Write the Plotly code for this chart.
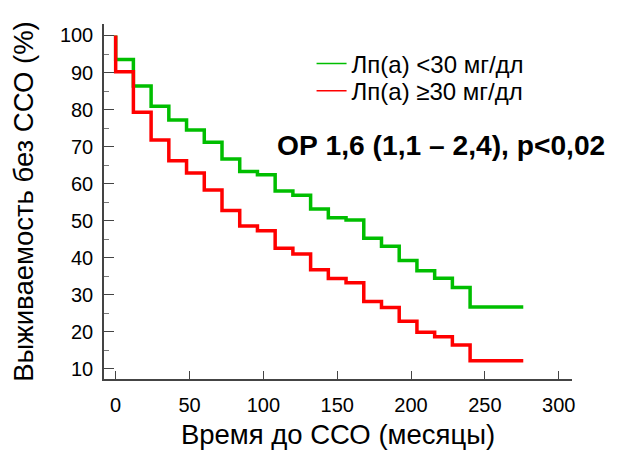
import plotly.graph_objects as go

# Time points (months): start, then steps every 12 months, end of follow-up
times = [0, 0, 12, 24, 36, 48, 60, 72, 84, 96, 108, 120, 132, 144, 156, 168,
         180, 192, 204, 216, 228, 240, 276]

# Survival without CVE (%) – Lp(a) < 30 mg/dl
surv_low = [100, 93.5, 86.4, 80.9, 77.2, 74.5, 71.2, 66.7, 63.3, 62.4, 58.0, 56.9,
            53.2, 50.8, 50.2, 45.3, 43.1, 39.3, 36.5, 34.5, 32.0, 26.7, 26.7]

# Survival without CVE (%) – Lp(a) >= 30 mg/dl
surv_high = [100, 90.2, 79.3, 71.8, 66.2, 62.9, 58.3, 52.8, 48.6, 47.3, 42.6, 41.0,
             36.8, 34.4, 33.3, 28.2, 26.6, 22.9, 19.9, 18.7, 16.5, 12.2, 12.2]

name_low = "Лп(а) <30 мг/дл"
name_high = "Лп(а) ≥30 мг/дл"
x_ticks = [0, 50, 100, 150, 200, 250, 300]
y_ticks = [10, 20, 30, 40, 50, 60, 70, 80, 90, 100]

GREEN = "rgb(0,190,0)"
RED = "rgb(255,0,0)"
FONT = "Liberation Sans, Arial, sans-serif"

fig = go.Figure()
fig.add_trace(go.Scatter(x=times, y=surv_low, mode="lines", line_shape="hv",
                         line=dict(color=GREEN, width=3.5), showlegend=False))
fig.add_trace(go.Scatter(x=times, y=surv_high, mode="lines", line_shape="hv",
                         line=dict(color=RED, width=3.5), showlegend=False))
# legend entries (thin sample lines), one legend box per row for tight spacing
fig.add_trace(go.Scatter(x=[None], y=[None], mode="lines", name=name_low,
                         line=dict(color=GREEN, width=1.5), legend="legend"))
fig.add_trace(go.Scatter(x=[None], y=[None], mode="lines", name=name_high,
                         line=dict(color=RED, width=1.5), legend="legend2"))

fig.add_annotation(text="<b>ОР 1,6 (1,1 – 2,4), p<0,02</b>", xref="paper", yref="paper",
                   x=0.365, y=0.66, xanchor="left", yanchor="middle", showarrow=False,
                   font=dict(family=FONT, size=28.2, color="black"))

legend_style = dict(xanchor="left", yanchor="top",
                    font=dict(family=FONT, size=24, color="black"),
                    bgcolor="rgba(0,0,0,0)")

fig.update_layout(
    width=609, height=449,
    margin=dict(l=95, r=45, t=16, b=74),
    paper_bgcolor="white", plot_bgcolor="white",
    font=dict(family=FONT, color="black"),
    legend=dict(x=0.4435, y=0.951, **legend_style),
    legend2=dict(x=0.4435, y=0.874, **legend_style),
    xaxis=dict(range=[-7.9, 309], tickvals=x_ticks, ticks="inside", ticklen=8,
               tickwidth=1.3, tickcolor="#444", showline=True, linecolor="#444",
               linewidth=1.5, showgrid=False, zeroline=False, ticklabelstandoff=7,
               tickfont=dict(size=20, family=FONT, color="black"),
               title=dict(text="Время до ССО (месяцы)", standoff=10,
                          font=dict(size=27.5, family=FONT, color="black"))),
    yaxis=dict(range=[7.3, 103.1], tickvals=y_ticks, ticks="inside", ticklen=10,
               tickwidth=1.3, tickcolor="#444", showline=True, linecolor="#444",
               linewidth=1.5, showgrid=False, zeroline=False, ticklabelstandoff=5,
               minor=dict(ticks="inside", ticklen=5, dtick=5, tickcolor="#777", tickwidth=1),
               tickfont=dict(size=20, family=FONT, color="black"),
               title=dict(text="Выживаемость без ССО (%)", standoff=21,
                          font=dict(size=27.5, family=FONT, color="black"))),
)

fig.write_html("out.html")
